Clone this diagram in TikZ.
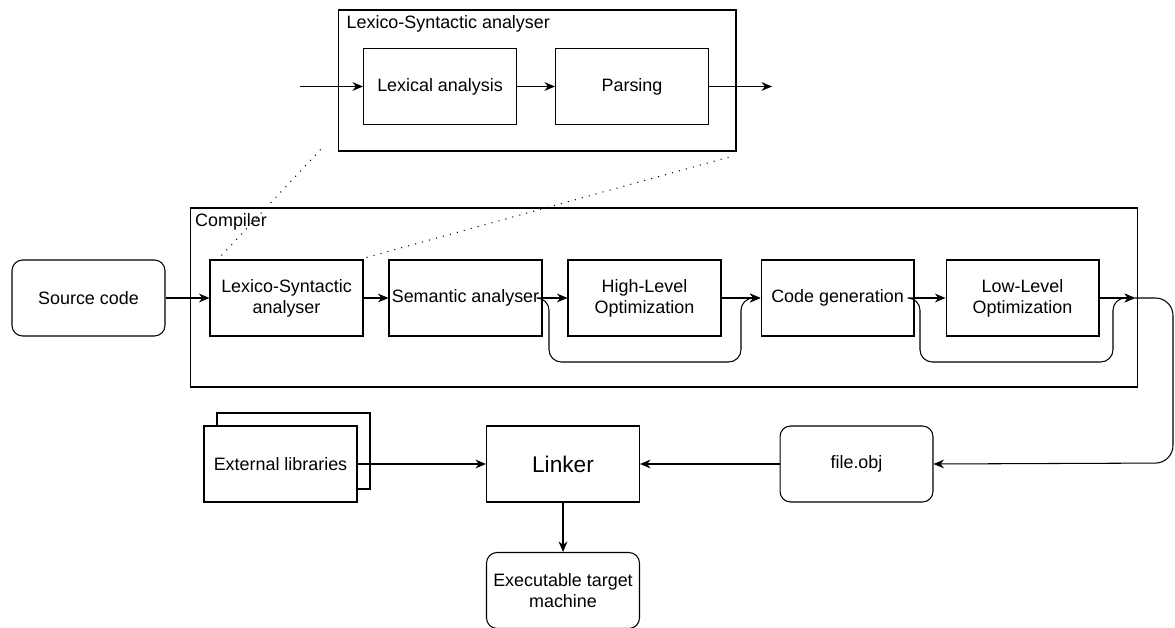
\documentclass[tikz,border=0pt]{standalone}
\usepackage{fontspec}
\setmainfont{Liberation Sans}
\usetikzlibrary{arrows.meta}

\tikzset{
	blk/.style={draw, line width=0.6pt, minimum width=3.06cm, minimum height=1.52cm, inner sep=1pt, align=center, font=\fontsize{10.2}{12}\selectfont},
	rblk/.style={blk, rounded corners=6pt},
	frame/.style={draw, line width=0.6pt, inner sep=0pt},
	framecap/.style={anchor=north west, inner sep=2pt, font=\fontsize{10.2}{12}\selectfont},
	arr/.style={line width=0.6pt, -{Stealth[length=6pt,width=5pt]}},
	dots/.style={line width=0.6pt, dash pattern=on 0.6pt off 3.5pt}
}

\begin{document}
\begin{tikzpicture}[x=0.02cm, y=-0.02cm]
			\useasboundingbox (0,0) rectangle (1175,628);
			% zoomed part on top
			\node[frame, minimum width=7.96cm, minimum height=2.82cm] (lsabox) at (537,80.5) {};
			\node[framecap] (lsacap) at ([shift={(3pt,-1pt)}]lsabox.north west) {Lexico-Syntactic analyser};
			\node[blk] (lex) at (440,86.5) {Lexical analysis};
			\node[blk] (pars) at (632,86.5) {Parsing};
			\coordinate (lsain) at (300,86.5);
			\coordinate (lsaout) at (772,86.5);
			\draw[arr] (lsain) -- (lex);
			\draw[arr] (lex) -- (pars);
			\draw[arr] (pars) -- (lsaout);
			% compiler
			\node[frame, minimum width=18.96cm, minimum height=3.58cm] (comp) at (664,297.5) {};
			\node[framecap] (compcap) at ([shift={(1pt,-1pt)}]comp.north west) {Compiler};
			\node[rblk] (src) at (88.5,298) {Source code};
			\node[blk] (lsa) at (286.5,298) {Lexico-Syntactic\\analyser};
			\node[blk] (sem) at (465.5,298) {Semantic analyser};
			\node[blk] (hl) at (644.5,298) {High-Level\\Optimization};
			\node[blk] (cg) at (837.5,298) {Code generation};
			\node[blk] (ll) at (1022.5,298) {Low-Level\\Optimization};
			\coordinate (out) at (1135,298);
			\draw[dots] (lsa.north west) ++(12,-4) -- (323,147);
			\draw[dots] (lsa.north east) ++(3,-2) -- (733,156);
			\draw[arr] (src) -- (lsa);
			\draw[arr] (lsa) -- (sem);
			\draw[arr] (sem) -- (hl);
			\draw[arr] (hl) -- (cg);
			\draw[arr] (cg) -- (ll);
			\draw[arr] (ll) -- (out);
			\draw[arr, rounded corners=7pt] (sem.east) -- (549,298) -- (549,362) -- (741,362) -- (741,298) -- (cg.west);
			\draw[arr, rounded corners=7pt] (cg.east) -- (920,298) -- (920,362) -- (1113,362) -- (1113,298) -- (out);
			% linking
			\node[blk, fill=white] (extb) at (293.5,451) {};
			\node[blk, fill=white] (ext) at (280.5,464) {External libraries};
			\node[blk, font=\fontsize{12.9}{15}\selectfont] (link) at (563,464) {Linker};
			\node[rblk] (fobj) at (856.5,464) {file.obj};
			\node[rblk] (exe) at (563,590.5) {Executable target\\machine};
			\draw[arr, rounded corners=10pt] (out) -- (1173,298) -- (1173,463) -- (fobj.east);
			\draw[arr] (fobj) -- (link);
			\draw[arr] (ext) -- (link);
			\draw[arr] (link) -- (exe);
\end{tikzpicture}
\end{document}
